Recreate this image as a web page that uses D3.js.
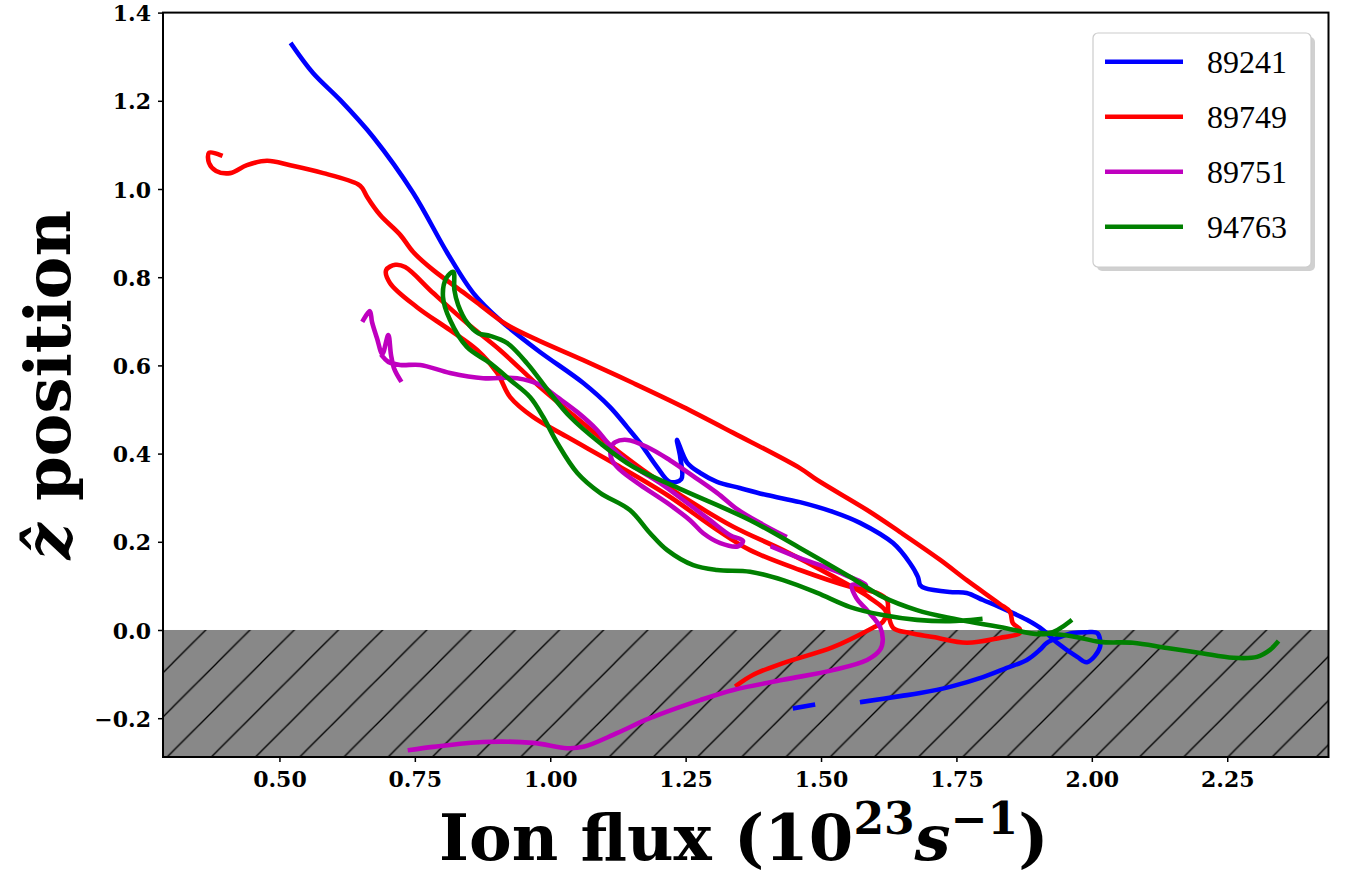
<!DOCTYPE html>
<html>
<head>
<meta charset="utf-8">
<script src="https://cdn.jsdelivr.net/npm/d3@7"></script>
<style>
  html, body { margin: 0; padding: 0; background: #fff; }
  svg { display: block; }
</style>
</head>
<body>
<svg id="chart" width="1345" height="876"></svg>
<script>
// ---------------- data ----------------
const seriesNames = ["89241", "89749", "89751", "94763"];
const seriesColors = ["#0000ff", "#ff0000", "#bf00bf", "#008000"];
const xTicks = [0.50, 0.75, 1.00, 1.25, 1.50, 1.75, 2.00, 2.25];
const yTicks = [-0.2, 0.0, 0.2, 0.4, 0.6, 0.8, 1.0, 1.2, 1.4];
const xDomain = [0.285, 2.437];
const yDomain = [-0.288, 1.4];
const wallLevel = 0.0;   // shaded region below z = 0

// [ion flux, z position]; null = gap in the trace
const shot89241 = [
  [0.523,1.327],[0.562,1.263],[0.612,1.202],[0.673,1.118],[0.747,0.991],[0.810,0.855],
  [0.858,0.764],[0.907,0.703],[0.976,0.635],[1.061,0.560],[1.110,0.506],[1.142,0.460],
  [1.166,0.424],[1.197,0.370],[1.221,0.336],[1.242,0.342],[1.240,0.392],[1.234,0.431],
  [1.253,0.379],[1.277,0.356],[1.308,0.336],[1.350,0.322],[1.400,0.306],[1.461,0.290],
  [1.522,0.268],[1.572,0.243],[1.633,0.197],[1.664,0.152],[1.679,0.120],[1.683,0.102],
  [1.692,0.095],[1.738,0.086],[1.769,0.084],[1.799,0.068],[1.830,0.052],[1.880,0.023],
  [1.910,0.000],[1.936,-0.029],[1.973,-0.061],[1.991,-0.073],[2.015,-0.039],[2.010,-0.007],
  [1.991,-0.005],[1.965,-0.007],[1.941,-0.016],[1.917,-0.029],[1.904,-0.045],[1.880,-0.068],
  [1.843,-0.086],[1.799,-0.107],[1.738,-0.129],[1.683,-0.143],[1.646,-0.150],[1.576,-0.163],
  null,
  [1.452,-0.177],[1.485,-0.170]
];
const shot89749 = [
  [0.391,1.077],[0.370,1.082],[0.370,1.059],[0.383,1.041],[0.409,1.036],[0.440,1.054],
  [0.477,1.064],[0.520,1.054],[0.581,1.036],[0.645,1.011],[0.653,1.002],[0.662,0.982],
  [0.686,0.941],[0.723,0.896],[0.747,0.857],[0.784,0.816],[0.839,0.766],[0.865,0.742],
  [0.920,0.692],[0.976,0.658],[1.061,0.612],[1.153,0.560],[1.245,0.506],[1.338,0.447],
  [1.461,0.367],[1.493,0.340],[1.585,0.272],[1.646,0.222],[1.720,0.159],[1.769,0.113],
  [1.830,0.059],[1.849,0.041],[1.854,0.016],[1.867,0.002],[1.867,-0.007],[1.830,-0.018],
  [1.769,-0.029],[1.707,-0.016],[1.664,-0.007],[1.633,0.005],[1.624,0.041],[1.622,0.068],
  [1.603,0.084],[1.554,0.098],[1.461,0.136],[1.369,0.181],[1.308,0.227],[1.216,0.306],
  [1.123,0.374],[1.031,0.438],[0.968,0.483],[0.926,0.528],[0.902,0.583],[0.865,0.635],
  [0.815,0.680],[0.754,0.732],[0.704,0.787],[0.697,0.816],[0.714,0.828],[0.732,0.823],
  [0.784,0.764],[0.846,0.696],[0.907,0.635],[0.981,0.551],[1.031,0.499],[1.098,0.431],
  [1.171,0.363],[1.245,0.302],[1.338,0.234],[1.430,0.181],[1.517,0.125],[1.590,0.073],
  [1.620,0.041],[1.614,0.018],[1.596,0.005],[1.522,-0.039],[1.430,-0.075],[1.374,-0.102],
  [1.345,-0.125]
];
const shot89751 = [
  [0.655,0.703],[0.667,0.723],[0.671,0.698],[0.680,0.662],[0.690,0.626],[0.701,0.669],
  [0.706,0.624],[0.712,0.592],[0.723,0.567],
  null,
  [0.690,0.621],[0.701,0.608],[0.723,0.601],[0.760,0.601],[0.815,0.583],[0.876,0.571],
  [0.939,0.571],[0.981,0.556],[1.013,0.528],[1.050,0.494],[1.086,0.454],[1.105,0.426],
  [1.142,0.381],[1.203,0.333],[1.253,0.288],[1.295,0.249],[1.332,0.215],[1.356,0.202],
  [1.347,0.190],[1.314,0.197],[1.282,0.220],[1.258,0.249],[1.216,0.288],[1.166,0.329],
  [1.129,0.363],[1.114,0.385],[1.112,0.413],[1.120,0.426],[1.142,0.431],[1.179,0.415],
  [1.221,0.385],[1.264,0.349],[1.308,0.311],[1.345,0.274],[1.387,0.243],[1.433,0.213],
  null,
  [1.411,0.188],[1.461,0.163],[1.507,0.143],[1.544,0.125],[1.583,0.102],[1.557,0.102],
  [1.565,0.073],[1.585,0.045],[1.609,0.007],[1.614,-0.023],[1.609,-0.045],[1.585,-0.068],
  [1.522,-0.091],[1.430,-0.113],[1.338,-0.136],[1.277,-0.159],[1.184,-0.200],[1.123,-0.234],
  [1.061,-0.265],[1.031,-0.268],[0.968,-0.256],[0.876,-0.254],[0.784,-0.265],[0.741,-0.272]
];
const shot94763 = [
  [1.794,0.025],[1.738,0.020],[1.677,0.023],[1.614,0.034],[1.554,0.052],[1.493,0.084],
  [1.430,0.113],[1.369,0.132],[1.308,0.136],[1.264,0.147],[1.216,0.181],[1.184,0.220],
  [1.147,0.272],[1.092,0.311],[1.050,0.356],[1.013,0.424],[0.987,0.483],[0.963,0.528],
  [0.926,0.567],[0.889,0.605],[0.846,0.642],[0.815,0.703],[0.802,0.755],[0.808,0.798],
  [0.821,0.812],[0.823,0.771],[0.830,0.737],[0.846,0.698],[0.867,0.673],[0.889,0.667],
  [0.920,0.651],[0.957,0.605],[1.000,0.537],[1.037,0.483],[1.092,0.424],[1.153,0.370],
  [1.245,0.317],[1.369,0.249],[1.461,0.186],[1.554,0.120],[1.614,0.075],[1.677,0.045],
  [1.738,0.027],[1.830,0.007],[1.917,-0.009],[1.960,0.020],
  null,
  [1.904,-0.007],[1.963,-0.014],[2.015,-0.027],[2.076,-0.029],[2.139,-0.041],[2.200,-0.052],
  [2.261,-0.063],[2.305,-0.061],[2.329,-0.045],[2.342,-0.029]
];
const allSeries = [shot89241, shot89749, shot89751, shot94763];

// ---------------- layout ----------------
const W = 1345, H = 876;
const margin = { left: 163, top: 12.6, right: 16.5, bottom: 119 };
const iw = W - margin.left - margin.right;
const ih = H - margin.top - margin.bottom;

const svg = d3.select("#chart");
const x = d3.scaleLinear().domain(xDomain).range([0, iw]);
const y = d3.scaleLinear().domain(yDomain).range([ih, 0]);

const defs = svg.append("defs");
defs.append("clipPath").attr("id", "clip")
  .append("rect").attr("width", iw).attr("height", ih);

const hs = 44.2;
const pat = defs.append("pattern").attr("id", "hatch")
  .attr("patternUnits", "userSpaceOnUse")
  .attr("width", hs).attr("height", hs)
  .attr("x", -4.1 - margin.left).attr("y", -margin.top);
pat.append("rect").attr("width", hs).attr("height", hs).attr("fill", "#888888");
[[0, hs, hs, 0], [-2, 2, 2, -2], [hs - 2, hs + 2, hs + 2, hs - 2]].forEach(s => {
  pat.append("line").attr("x1", s[0]).attr("y1", s[1]).attr("x2", s[2]).attr("y2", s[3])
    .attr("stroke", "#000").attr("stroke-width", 1.3);
});

const g = svg.append("g").attr("transform", `translate(${margin.left},${margin.top})`);

// shaded wall region
g.append("rect")
  .attr("x", 0).attr("y", y(wallLevel))
  .attr("width", iw).attr("height", ih - y(wallLevel))
  .attr("fill", "url(#hatch)");

// traces
const line = d3.line()
  .defined(d => d !== null)
  .curve(d3.curveCatmullRom.alpha(0.5))
  .x(d => x(d[0])).y(d => y(d[1]));

const plot = g.append("g").attr("clip-path", "url(#clip)");
allSeries.forEach((s, i) => {
  plot.append("path")
    .datum(s)
    .attr("d", line)
    .attr("fill", "none")
    .attr("stroke", seriesColors[i])
    .attr("stroke-width", 4.6)
    .attr("stroke-linejoin", "round")
    .attr("stroke-linecap", "square");
});

// axes
const tickFont = "'DejaVu Serif', serif";
const fmtY = v => (v < 0 ? "\u2212" : "") + Math.abs(v).toFixed(1);
const xAxis = d3.axisBottom(x).tickValues(xTicks).tickFormat(d3.format(".2f"))
  .tickSize(5).tickPadding(9);
const yAxis = d3.axisLeft(y).tickValues(yTicks).tickFormat(fmtY)
  .tickSize(5).tickPadding(7);

const gx = g.append("g").attr("transform", `translate(0,${ih})`).call(xAxis);
const gy = g.append("g").call(yAxis);
[gx, gy].forEach(a => {
  a.select(".domain").remove();
  a.selectAll(".tick line").attr("stroke", "#000").attr("stroke-width", 1.5);
  a.selectAll(".tick text")
    .attr("fill", "#000")
    .style("font-family", tickFont)
    .style("font-weight", "bold")
    .style("font-size", "22px");
});
gy.selectAll(".tick text").attr("dy", "0.37em");

// frame
g.append("rect").attr("width", iw).attr("height", ih)
  .attr("fill", "none").attr("stroke", "#000").attr("stroke-width", 2);

// axis labels
const labelFont = "'DejaVu Serif', serif";
const xl = svg.append("text")
  .attr("x", margin.left + iw / 2 - 2)
  .attr("y", 860)
  .attr("text-anchor", "middle")
  .style("font-family", labelFont)
  .style("font-weight", "bold")
  .style("font-size", "64px")
  .attr("fill", "#000");
xl.append("tspan").text("Ion flux (10");
xl.append("tspan").attr("dy", -26).style("font-size", "44px").text("23");
xl.append("tspan").attr("dy", 26).style("font-style", "italic").text("s");
xl.append("tspan").attr("dy", -26).style("font-size", "44px").text("\u22121");
xl.append("tspan").attr("dy", 26).text(")");

const yl = svg.append("text")
  .attr("transform", `translate(70,${margin.top + ih / 2}) rotate(-90)`)
  .attr("text-anchor", "middle")
  .style("font-family", labelFont)
  .style("font-weight", "bold")
  .style("font-size", "64px")
  .attr("fill", "#000");
yl.append("tspan").style("font-style", "italic").text("\u1E91");
yl.append("tspan").text(" position");

// legend
const lg = svg.append("g").attr("transform", "translate(1093,33)");
const lw = 218, lh = 234;
lg.append("rect").attr("x", 4).attr("y", 4).attr("width", lw).attr("height", lh)
  .attr("rx", 5).attr("fill", "#b0b0b0").attr("opacity", 0.6);
lg.append("rect").attr("width", lw).attr("height", lh)
  .attr("rx", 5).attr("fill", "#fff").attr("stroke", "#cccccc").attr("stroke-width", 1.2);
seriesNames.forEach((name, i) => {
  const cy = 28.7 + i * 55;
  lg.append("line").attr("x1", 12).attr("x2", 90).attr("y1", cy).attr("y2", cy)
    .attr("stroke", seriesColors[i]).attr("stroke-width", 4.6);
  lg.append("text").attr("x", 114).attr("y", cy + 11)
    .style("font-family", "'Liberation Serif', serif")
    .style("font-size", "32px")
    .attr("fill", "#000")
    .text(name);
});
</script>
</body>
</html>
